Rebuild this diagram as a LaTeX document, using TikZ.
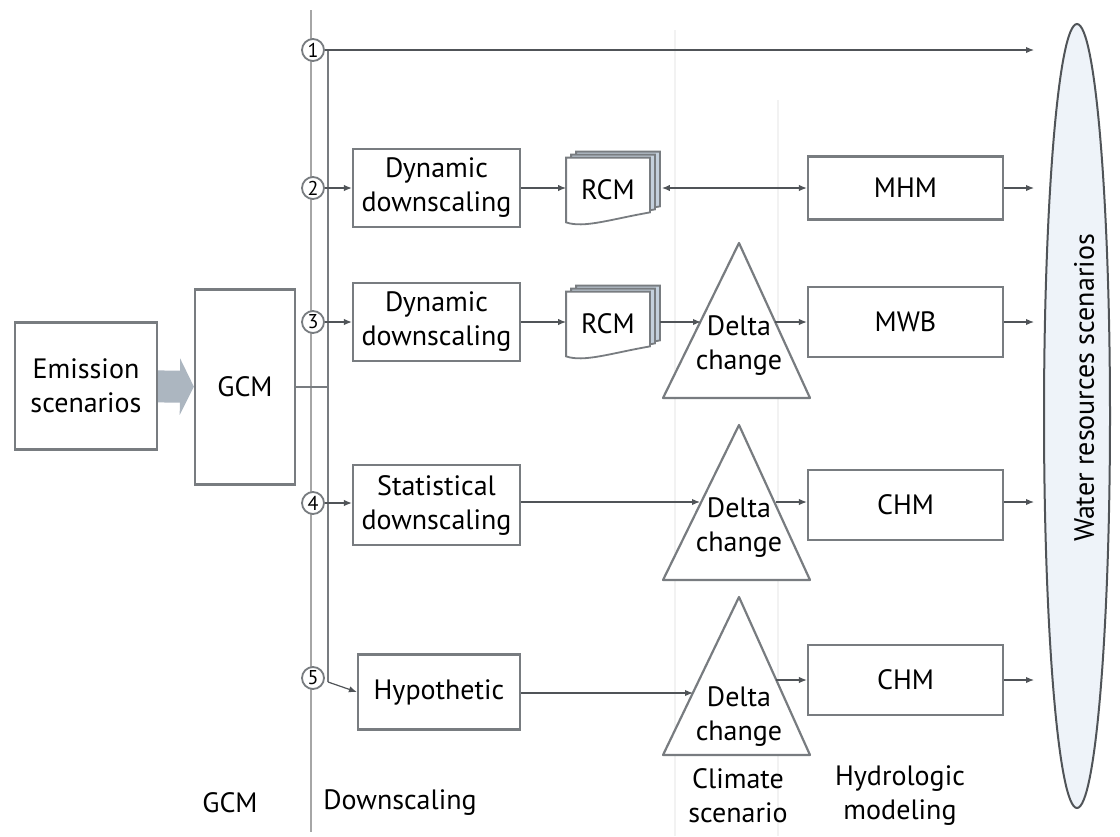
\documentclass[tikz,border=0pt]{standalone}
\usepackage{fontspec}
\setmainfont{PT Sans}
\usepackage{xcolor}
\usetikzlibrary{arrows.meta,positioning,calc,shapes.geometric}

\definecolor{boxgray}{RGB}{120,124,128}
\definecolor{linegray}{RGB}{80,84,88}
\definecolor{rcmblue}{RGB}{196,208,220}
\definecolor{fatblue}{RGB}{172,182,192}
\definecolor{wrsfill}{RGB}{238,243,249}

% stacked RCM sheets round a node
\newcommand{\rcmstack}[1]{%
  \foreach \dx/\dy/\col in {10/-6/rcmblue,5/-3/rcmblue,0/0/white}{%
    \filldraw[sheet, fill=\col]
      ($(#1.north west)+(\dx,\dy)$) -- ($(#1.north east)+(\dx,\dy)$)
      -- ($(#1.south east)+(\dx,\dy-10)$)
      .. controls ($(#1.south east)+(\dx-40,\dy-3)$) and ($(#1.south west)+(\dx+18,\dy+6)$)
      .. ($(#1.south west)+(\dx,\dy)$) -- cycle;}}

\begin{document}
\begin{tikzpicture}[
  x=0.5pt, y=-0.5pt,
  every node/.style={font=\fontsize{14}{17}\selectfont},
  box/.style={draw=boxgray, line width=1.1pt, fill=white, align=center, inner sep=1pt},
  num/.style={circle, draw=boxgray, line width=0.9pt, fill=white, inner sep=0pt,
              minimum size=11pt, font=\fontsize{10}{10}\selectfont},
  arr/.style={-{Latex[length=4pt,width=3.2pt]}, draw=linegray, line width=0.6pt},
  bus/.style={draw=boxgray, line width=1pt},
  sheet/.style={draw=boxgray, line width=0.9pt},
  tri/.style={draw=boxgray, line width=1.1pt, fill=white, line join=round},
  deltatxt/.style={align=center, inner sep=0pt},
  fat/.style={draw=fatblue, line width=16pt, -{Triangle[length=7pt,width=28pt]}},
  divider/.style={draw=gray!10, line width=0.6pt}]
  \useasboundingbox (0,0) rectangle (1120,836);

  % faint column dividers
  \coordinate (cd1) at (675,30);
  \coordinate (cd2) at (778,100);
  \draw[divider] (cd1) -- (cd1 |- 0,836);
  \draw[divider] (cd2) -- (cd2 |- 0,836);

  % left scale line and bus
  \coordinate (top) at (311,10);
  \coordinate (bot) at (311,832);
  \draw[bus, draw=gray!70] (top) -- (bot);
  \coordinate (bustop) at (328,50);
  \coordinate (busbot) at (328,682);
  \draw[bus] (bustop) -- (busbot);

  % sources
  \node[box, minimum width=71pt, minimum height=63.5pt] (emis) at (86,386) {Emission\\scenarios};
  \node[box, minimum width=50pt, minimum height=97.5pt] (gcm) at (245,387) {GCM};
  \draw[fat] (emis) -- (gcm);
  \draw[bus] (gcm.east) -- (gcm.east -| bustop);

  % water resources scenarios
  \node[draw=linegray, line width=1pt, fill=wrsfill, ellipse,
        minimum width=33pt, minimum height=392pt] (wrs) at (1077,416) {};
  \node[rotate=90] (wrst) at (1084,388) {Water resources scenarios};

  % route markers
  \node[num] (n1) at (313,50) {1};
  \node[num] (n2) at (313,188) {2};
  \node[num] (n3) at (313,322) {3};
  \node[num] (n4) at (313,503) {4};
  \node[num] (n5) at (313,678) {5};

  % route 1
  \draw[arr, shorten >=4.5pt] (n1) -- (n1 -| wrs.west);

  % route 2
  \node[box, minimum width=83.5pt, minimum height=39pt] (dyn2) at (436.5,188) {Dynamic\\downscaling};
  \node[minimum width=41.5pt, minimum height=32pt, inner sep=0pt] (rcm2) at (608,190) {};
  \rcmstack{rcm2}
  \node (rcm2t) at (rcm2) {RCM};
  \node[box, minimum width=97.5pt, minimum height=31.5pt] (mhm) at (905.5,188) {MHM};
  \draw[arr] (n2) -- (n2 -| dyn2.west);
  \draw[arr] (dyn2) -- (dyn2 -| rcm2.west);
  \draw[arr, {Latex[length=4pt,width=3.2pt]}-{Latex[length=4pt,width=3.2pt]}]
    ($(rcm2.east)+(12,-2)$) -- (mhm);
  \draw[arr, shorten >=4.5pt] (mhm) -- (mhm -| wrs.west);

  % route 3
  \node[box, minimum width=83.5pt, minimum height=39pt] (dyn3) at (436.5,322) {Dynamic\\downscaling};
  \node[minimum width=41.5pt, minimum height=32pt, inner sep=0pt] (rcm3) at (608,324) {};
  \rcmstack{rcm3}
  \node (rcm3t) at (rcm3) {RCM};
  \coordinate (d3) at (739,346);
  \draw[tri] ($(d3)+(-76,52)$) -- ($(d3)+(0,-103)$) -- ($(d3)+(71,52)$) -- cycle;
  \node[deltatxt] (d3t) at (d3) {Delta\\change};
  \coordinate (d3in) at ($(d3)+(-38,-24)$);
  \coordinate (d3out) at ($(d3)+(36,-24)$);
  \node[box, minimum width=97.5pt, minimum height=35pt] (mwb) at (905.5,322) {MWB};
  \draw[arr] (n3) -- (n3 -| dyn3.west);
  \draw[arr] (dyn3) -- (dyn3 -| rcm3.west);
  \draw[arr] ($(rcm3.east)+(10,-2)$) -- (d3in);
  \draw[arr] (d3out) -- (d3out -| mwb.west);
  \draw[arr, shorten >=4.5pt] (mwb) -- (mwb -| wrs.west);

  % route 4
  \node[box, minimum width=83.5pt, minimum height=40pt] (stat) at (436.5,505) {Statistical\\downscaling};
  \coordinate (d4) at (739,528);
  \draw[tri] ($(d4)+(-76,52)$) -- ($(d4)+(0,-103)$) -- ($(d4)+(71,52)$) -- cycle;
  \node[deltatxt] (d4t) at (d4) {Delta\\change};
  \coordinate (d4in) at ($(d4)+(-39,-26)$);
  \coordinate (d4out) at ($(d4)+(37,-26)$);
  \node[box, minimum width=97.5pt, minimum height=35pt] (chm4) at (905.5,505) {CHM};
  \draw[arr] (n4) -- (n4 -| stat.west);
  \draw[arr] (stat.east |- d4in) -- (d4in);
  \draw[arr] (d4out) -- (d4out -| chm4.west);
  \draw[arr, shorten >=4.5pt] (chm4.east |- d4out) -- (d4out -| wrs.west);

  % route 5
  \node[box, minimum width=81pt, minimum height=37.5pt] (hyp) at (439,692) {Hypothetic};
  \coordinate (d5) at (739,717);
  \draw[tri] ($(d5)+(-76,38)$) -- ($(d5)+(0,-120)$) -- ($(d5)+(71,38)$) -- cycle;
  \node[deltatxt] (d5t) at (d5) {Delta\\change};
  \coordinate (d5in) at ($(d5)+(-46,-24)$);
  \coordinate (d5out) at ($(d5)+(37,-37)$);
  \node[box, minimum width=97.5pt, minimum height=35pt] (chm5) at (905.5,680) {CHM};
  \draw[arr] (busbot) -- (hyp.west);
  \draw[arr] (hyp.east |- d5in) -- (d5in);
  \draw[arr] (d5out) -- (d5out -| chm5.west);
  \draw[arr, shorten >=4.5pt] (chm5) -- (chm5 -| wrs.west);

  % column labels
  \node (lgcm) at (230,803) {GCM};
  \node (ldown) at (400,803) {Downscaling};
  \node[align=center] (lclim) at (738,796) {Climate\\scenario};
  \node[align=center] (lhyd) at (900,796) {Hydrologic\\modeling};
\end{tikzpicture}
\end{document}
